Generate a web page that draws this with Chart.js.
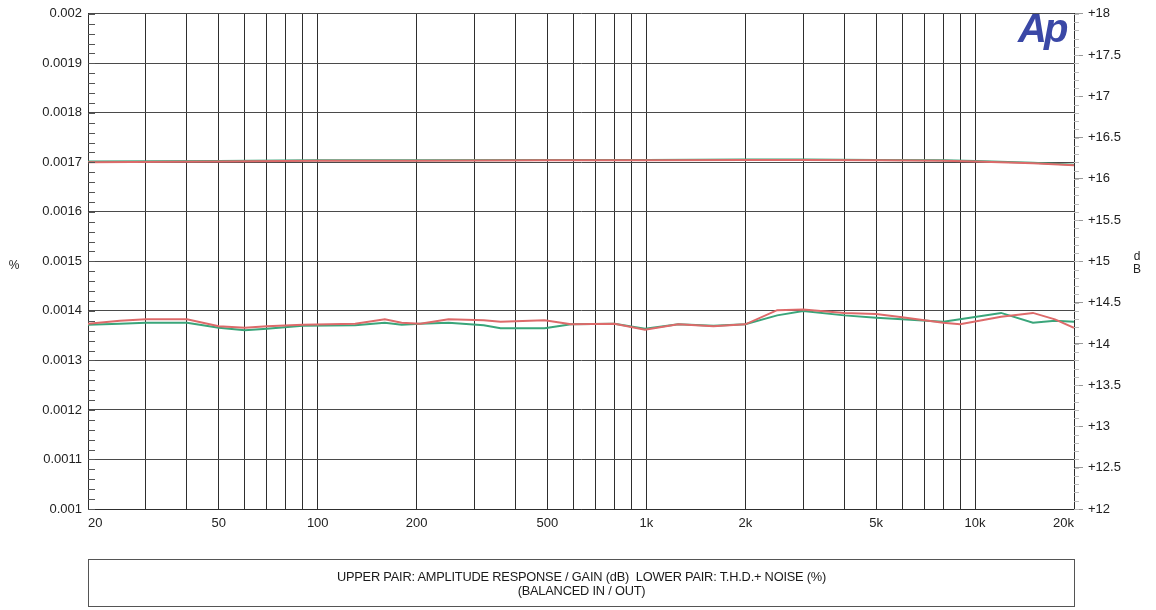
<!DOCTYPE html>
<html>
<head>
<meta charset="utf-8">
<title>Amplitude response / THD+N</title>
<script src="https://cdn.jsdelivr.net/npm/chart.js@4.4.1/dist/chart.umd.min.js"></script>
<style>
    html, body { margin: 0; padding: 0; background: #fff; }
    #wrap { position: relative; width: 1156px; height: 610px; }
    #note {
        position: absolute; left: 88px; top: 559px; width: 987px; height: 48px;
        box-sizing: border-box; border: 1px solid #555;
        font: 12.8px "Liberation Sans", Arial, sans-serif; color: #1a1a1a;
        letter-spacing: -0.2px;
        text-align: center; line-height: 14px; padding-top: 10px;
    }
</style>
</head>
<body>
<div id="wrap">
    <canvas id="apChart" width="1156" height="610"></canvas>
    <div id="note">UPPER PAIR: AMPLITUDE RESPONSE / GAIN (dB)&nbsp; LOWER PAIR: T.H.D.+ NOISE (%)<br>(BALANCED IN / OUT)</div>
</div>
<script>
// ============================================
// DATA
// ============================================

// gridlines on the frequency axis (1-2-3...9 per decade)
const gridFreqs = [20, 30, 40, 50, 60, 70, 80, 90,
    100, 200, 300, 400, 500, 600, 700, 800, 900,
    1000, 2000, 3000, 4000, 5000, 6000, 7000, 8000, 9000,
    10000, 20000];
const freqLabels = { 20: '20', 50: '50', 100: '100', 200: '200', 500: '500',
    1000: '1k', 2000: '2k', 5000: '5k', 10000: '10k', 20000: '20k' };

// upper pair - gain in dB (right axis)
const gainFreqs = [20, 50, 100, 200, 500, 1000, 2000, 3000, 5000, 8000, 10000, 15000, 20000];
const gainRed   = [16.20, 16.21, 16.22, 16.22, 16.225, 16.225, 16.23, 16.23, 16.225, 16.22, 16.21, 16.19, 16.165];
const gainGreen = [16.21, 16.215, 16.225, 16.225, 16.23, 16.23, 16.235, 16.235, 16.23, 16.225, 16.215, 16.195, 16.17];

// lower pair - THD+N in % (left axis)
const thdFreqs = [20, 25, 30, 40, 50, 60, 70, 90, 130, 160, 180, 205, 250, 320, 360, 490, 590,
    800, 990, 1250, 1600, 2000, 2500, 3000, 4000, 5000, 6000, 8000, 9000, 12000, 15000, 17500, 20000];
const thdRed = [0.001374, 0.00138, 0.001383, 0.001383, 0.001369, 0.001366, 0.001369, 0.001372,
    0.001374, 0.001383, 0.001376, 0.001374, 0.001383, 0.001381, 0.001378, 0.001381, 0.001373,
    0.001374, 0.001362, 0.001373, 0.001369, 0.001373, 0.0014015, 0.001403, 0.001396, 0.001394,
    0.001387, 0.001376, 0.001373, 0.001388, 0.001396, 0.001383, 0.001366];
const thdGreen = [0.001372, 0.001374, 0.001376, 0.001376, 0.001366, 0.001361, 0.001364, 0.00137,
    0.001371, 0.001376, 0.001372, 0.001374, 0.001376, 0.001371, 0.001365, 0.001365, 0.001373,
    0.001374, 0.001364, 0.001373, 0.00137, 0.001373, 0.001391, 0.0014, 0.001391, 0.001386,
    0.001383, 0.001378, 0.001383, 0.001396, 0.001376, 0.00138, 0.001378];

// axis ranges
const pctMin = 0.001, pctMax = 0.002, pctStep = 0.0001, pctMinor = 0.00002;
const dbMin = 12, dbMax = 18, dbStep = 0.5, dbMinor = 0.1;

const RED = '#dd6a6a';
const GREEN = '#3aa57a';
const GRID_V = '#2e2e2e';
const GRID_H = '#4a4a4a';
const FONT = '"Liberation Sans", Arial, sans-serif';

function pts(xs, ys) {
    return xs.map((x, i) => ({ x: x, y: ys[i] }));
}

// ============================================
// EXTRAS: minor ticks, side labels, Ap logo
// ============================================

const extras = {
    id: 'extras',
    afterDraw(chart) {
        const ctx = chart.ctx;
        const y = chart.scales.y;
        const y1 = chart.scales.y1;
        const area = chart.chartArea;
        ctx.save();

        // left minor ticks, inside the plot
        ctx.strokeStyle = '#555';
        ctx.lineWidth = 1;
        ctx.beginPath();
        for (let v = pctMin; v <= pctMax + 1e-9; v += pctMinor) {
            const py = Math.round(y.getPixelForValue(v)) + 0.5;
            ctx.moveTo(area.left, py);
            ctx.lineTo(area.left + 7, py);
        }
        ctx.stroke();

        // right minor ticks, outside
        ctx.strokeStyle = '#bbb';
        ctx.beginPath();
        for (let v = dbMin; v <= dbMax + 1e-9; v += dbMinor) {
            const py = Math.round(y1.getPixelForValue(v)) + 0.5;
            ctx.moveTo(area.right, py);
            ctx.lineTo(area.right + 5, py);
        }
        ctx.stroke();

        // unit labels
        ctx.fillStyle = '#222';
        ctx.font = '12px ' + FONT;
        ctx.textAlign = 'center';
        ctx.textBaseline = 'middle';
        ctx.fillText('%', 14, 266);
        ctx.fillText('d', 1137, 257);
        ctx.fillText('B', 1137, 270);

        // Ap logo
        ctx.fillStyle = '#3a48a6';
        ctx.font = 'italic bold 40px ' + FONT;
        ctx.textAlign = 'left';
        ctx.textBaseline = 'alphabetic';
        ctx.letterSpacing = '-3px';
        ctx.fillText('Ap', 1018, 42);
        ctx.restore();
    }
};

// ============================================
// CHART
// ============================================

new Chart(document.getElementById('apChart'), {
    type: 'line',
    data: {
        datasets: [
            { data: pts(gainFreqs, gainRed), yAxisID: 'y1', borderColor: RED, borderWidth: 2 },
            { data: pts(gainFreqs, gainGreen), yAxisID: 'y1', borderColor: GREEN, borderWidth: 2 },
            { data: pts(thdFreqs, thdRed), yAxisID: 'y', borderColor: RED, borderWidth: 2 },
            { data: pts(thdFreqs, thdGreen), yAxisID: 'y', borderColor: GREEN, borderWidth: 2 }
        ]
    },
    options: {
        responsive: false,
        animation: false,
        devicePixelRatio: 1,
        elements: { point: { radius: 0 }, line: { tension: 0 } },
        layout: { padding: { top: 13, left: 0, right: 0, bottom: 0 } },
        plugins: { legend: { display: false }, tooltip: { enabled: false } },
        scales: {
            x: {
                type: 'logarithmic',
                min: 20,
                max: 20000,
                afterBuildTicks: (s) => { s.ticks = gridFreqs.map(v => ({ value: v })); },
                afterFit: (s) => { s.height = 101; },
                grid: { color: GRID_V, lineWidth: 1, drawTicks: false },
                border: { color: GRID_V },
                ticks: {
                    autoSkip: false, maxRotation: 0, align: 'inner', padding: 7,
                    color: '#222', font: { family: FONT, size: 13 },
                    callback: (v) => freqLabels[v] || ''
                }
            },
            y: {
                position: 'left',
                min: pctMin,
                max: pctMax,
                afterFit: (s) => { s.width = 88; },
                grid: { color: GRID_H, lineWidth: 1, drawTicks: false },
                border: { color: GRID_V },
                ticks: {
                    stepSize: pctStep, padding: 6,
                    color: '#222', font: { family: FONT, size: 13 },
                    callback: (v) => String(+v.toFixed(5))
                }
            },
            y1: {
                position: 'right',
                min: dbMin,
                max: dbMax,
                afterFit: (s) => { s.width = 82; },
                grid: { drawOnChartArea: false, color: '#999', tickLength: 9 },
                border: { color: GRID_V },
                ticks: {
                    stepSize: dbStep, padding: 5,
                    color: '#222', font: { family: FONT, size: 13 },
                    callback: (v) => '+' + v
                }
            }
        }
    },
    plugins: [extras]
});
</script>
</body>
</html>
